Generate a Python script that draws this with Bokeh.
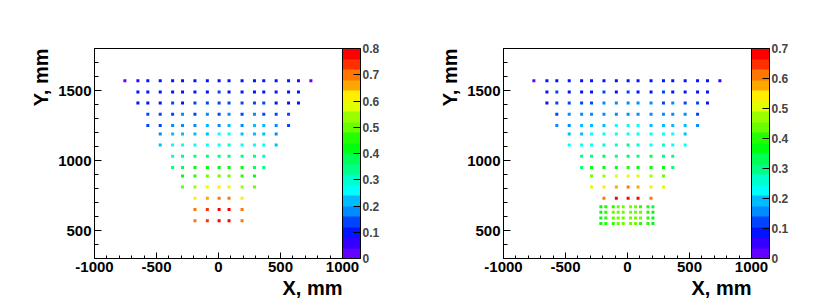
import colorsys
from bokeh.plotting import figure
from bokeh.models import (LinearColorMapper, ColorBar, FixedTicker,
                          CustomJSTickFormatter, Title, ColumnDataSource)
from bokeh.layouts import row
from bokeh.embed import file_html
from bokeh.resources import INLINE

# ---------------- data ----------------
X_COLS = [-755, -650, -570, -470, -370, -290, -190, -90, 5, 85,
          190, 290, 365, 465, 565, 645, 745]
Y_ROWS = [1570, 1490, 1410, 1330, 1250, 1190, 1110, 1030, 950, 890,
          810, 730, 650, 570]
ROW_COUNTS = [17, 15, 15, 13, 13, 11, 11, 9, 9, 7, 7, 5, 5, 5]

LEFT_VALUES = [
    [0.035, 0.06, 0.09, 0.09, 0.10, 0.10, 0.10, 0.10, 0.11, 0.10, 0.10, 0.10, 0.10, 0.09, 0.09, 0.06, 0.035],
    [0.085, 0.10, 0.11, 0.11, 0.11, 0.11, 0.11, 0.13, 0.11, 0.11, 0.11, 0.11, 0.11, 0.10, 0.085],
    [0.10, 0.11, 0.12, 0.13, 0.12, 0.13, 0.14, 0.15, 0.15, 0.13, 0.13, 0.14, 0.12, 0.11, 0.10],
    [0.13, 0.14, 0.15, 0.17, 0.15, 0.18, 0.15, 0.18, 0.15, 0.17, 0.15, 0.14, 0.13],
    [0.15, 0.15, 0.18, 0.19, 0.18, 0.22, 0.18, 0.22, 0.18, 0.21, 0.21, 0.18, 0.15],
    [0.18, 0.22, 0.23, 0.22, 0.22, 0.25, 0.25, 0.22, 0.22, 0.22, 0.18],
    [0.21, 0.25, 0.26, 0.26, 0.26, 0.27, 0.29, 0.26, 0.26, 0.25, 0.21],
    [0.31, 0.32, 0.35, 0.35, 0.34, 0.35, 0.35, 0.32, 0.31],
    [0.34, 0.39, 0.41, 0.43, 0.43, 0.43, 0.41, 0.38, 0.34],
    [0.43, 0.45, 0.49, 0.50, 0.49, 0.45, 0.43],
    [0.50, 0.54, 0.58, 0.61, 0.58, 0.54, 0.50],
    [0.62, 0.66, 0.70, 0.70, 0.62],
    [0.70, 0.75, 0.78, 0.77, 0.70],
    [0.70, 0.76, 0.78, 0.78, 0.70],
]

RIGHT_VALUES = [
    [0.03, 0.08, 0.09, 0.09, 0.09, 0.09, 0.09, 0.10, 0.09, 0.09, 0.09, 0.09, 0.09, 0.09, 0.09, 0.08, 0.06],
    [0.08, 0.11, 0.10, 0.10, 0.10, 0.11, 0.10, 0.11, 0.10, 0.10, 0.11, 0.10, 0.10, 0.09, 0.075],
    [0.09, 0.11, 0.12, 0.13, 0.12, 0.15, 0.15, 0.15, 0.15, 0.15, 0.12, 0.15, 0.12, 0.11, 0.09],
    [0.12, 0.15, 0.15, 0.16, 0.16, 0.17, 0.16, 0.16, 0.16, 0.16, 0.16, 0.15, 0.12],
    [0.16, 0.17, 0.19, 0.19, 0.19, 0.22, 0.22, 0.22, 0.19, 0.19, 0.19, 0.19, 0.16],
    [0.18, 0.20, 0.22, 0.23, 0.22, 0.23, 0.24, 0.22, 0.22, 0.22, 0.18],
    [0.22, 0.23, 0.24, 0.26, 0.27, 0.28, 0.26, 0.24, 0.26, 0.24, 0.22],
    [0.29, 0.30, 0.34, 0.31, 0.34, 0.31, 0.34, 0.30, 0.29],
    [0.30, 0.36, 0.37, 0.37, 0.40, 0.37, 0.37, 0.36, 0.30],
    [0.45, 0.46, 0.50, 0.51, 0.50, 0.46, 0.45],
    [0.52, 0.53, 0.58, 0.61, 0.59, 0.53, 0.52],
    [0.62, 0.67, 0.68, 0.68, 0.62],
]

BLOCK_X = [-215, -175, -115, -75, -35, 25, 65, 105, 165, 205]
BLOCK_Y = [670, 630, 590, 550]
BLOCK_VALUES = [
    [0.38, 0.39, 0.41, 0.43, 0.43, 0.44, 0.43, 0.42, 0.39, 0.34],
    [0.38, 0.40, 0.43, 0.44, 0.44, 0.44, 0.44, 0.43, 0.40, 0.38],
    [0.38, 0.41, 0.43, 0.44, 0.45, 0.45, 0.44, 0.43, 0.41, 0.38],
    [0.37, 0.40, 0.42, 0.43, 0.44, 0.44, 0.43, 0.42, 0.40, 0.37],
]

X_TICKS = [-1000, -500, 0, 500, 1000]
Y_TICKS = [500, 1000, 1500]
LEFT_Z_TICKS = [0, 0.1, 0.2, 0.3, 0.4, 0.5, 0.6, 0.7, 0.8]
RIGHT_Z_TICKS = [0, 0.1, 0.2, 0.3, 0.4, 0.5, 0.6, 0.7]
LEFT_Z_MAX = 0.8
RIGHT_Z_MAX = 0.7
X_TITLE = "X, mm"
Y_TITLE = "Y, mm"

FONT = "Liberation Sans"


def root_palette(ncont=20, ncol=50):
    cols = []
    for i in range(ncont):
        idx = int((i + 0.99) * ncol / ncont)
        hue = 280.0 - (idx + 1) * (280.0 / ncol)
        r, g, b = colorsys.hls_to_rgb(hue / 360.0, 0.5, 1.0)
        cols.append("#%02x%02x%02x" % (round(r * 255), round(g * 255), round(b * 255)))
    return cols


PALETTE = root_palette()


def grid_points(rows_values, extra=None):
    xs, ys, vs = [], [], []
    for yv, n, vals in zip(Y_ROWS, ROW_COUNTS, rows_values):
        off = (len(X_COLS) - n) // 2
        for k in range(n):
            xs.append(X_COLS[off + k])
            ys.append(yv)
            vs.append(vals[k])
    if extra is not None:
        bx, by, bv = extra
        for yv, vals in zip(by, bv):
            for xv, v in zip(bx, vals):
                xs.append(xv)
                ys.append(yv)
                vs.append(v)
    return dict(x=xs, y=ys, v=vs)


def make_panel(data, zmax, zticks, border_left, width):
    frame_w, frame_h, top, height = 248, 210, 48, 307
    p = figure(width=width, height=height, x_range=(-1000, 1000), y_range=(300, 1800),
               output_backend="svg", toolbar_location=None,
               min_border_left=border_left, min_border_right=width - border_left - frame_w,
               min_border_top=top, min_border_bottom=height - top - frame_h)
    p.grid.visible = False
    p.outline_line_color = "black"
    p.outline_line_width = 1
    p.background_fill_color = "white"
    p.border_fill_color = "white"

    int_fmt = CustomJSTickFormatter(code="return String(Math.round(tick));")
    p.xaxis.ticker = FixedTicker(ticks=X_TICKS, minor_ticks=list(range(-1000, 1001, 100)))
    p.yaxis.ticker = FixedTicker(ticks=Y_TICKS, minor_ticks=list(range(300, 1801, 100)))
    for ax in (p.xaxis, p.yaxis):
        ax.formatter = int_fmt
        ax.axis_line_color = "black"
        ax.major_tick_out = 0
        ax.minor_tick_out = 0
        ax.major_tick_line_color = "black"
        ax.minor_tick_line_color = "black"
        ax.major_label_text_font = FONT
        ax.major_label_text_font_style = "bold"
        ax.major_label_text_font_size = "15px"
        ax.major_label_text_color = "black"
    p.xaxis.major_tick_in = 6
    p.xaxis.minor_tick_in = 3
    p.yaxis.major_tick_in = 7
    p.yaxis.minor_tick_in = 4
    p.xaxis.major_label_standoff = 3
    p.yaxis.major_label_standoff = 3

    mapper = LinearColorMapper(palette=PALETTE, low=0, high=zmax)
    src = ColumnDataSource(data)
    p.scatter("x", "y", source=src, marker="square", size=3,
              fill_color={"field": "v", "transform": mapper}, line_color=None)

    cb = ColorBar(color_mapper=mapper, ticker=FixedTicker(ticks=zticks),
                  formatter=CustomJSTickFormatter(code="return tick == 0 ? '0' : tick.toFixed(1);"),
                  width=18, height=frame_h, padding=0, margin=0, location="top_left",
                  major_tick_in=7, major_tick_out=0, major_tick_line_color="black",
                  minor_tick_line_color=None, bar_line_color="black",
                  border_line_color=None, background_fill_color=None,
                  label_standoff=2, major_label_text_font=FONT,
                  major_label_text_font_style="bold", major_label_text_font_size="12px")
    p.add_layout(cb, "right")

    p.add_layout(Title(text=X_TITLE, align="right", text_font=FONT,
                       text_font_style="bold", text_font_size="20px",
                       text_color="black", standoff=1), "below")
    p.add_layout(Title(text=Y_TITLE, align="right", text_font=FONT,
                       text_font_style="bold", text_font_size="20px",
                       text_color="black", standoff=7), "left")
    return p


left = make_panel(grid_points(LEFT_VALUES), LEFT_Z_MAX, LEFT_Z_TICKS, 94, 408)
right = make_panel(grid_points(RIGHT_VALUES, (BLOCK_X, BLOCK_Y, BLOCK_VALUES)),
                   RIGHT_Z_MAX, RIGHT_Z_TICKS, 95, 409)

layout = row(left, right)
open("out.html", "w").write(file_html(layout, INLINE))
